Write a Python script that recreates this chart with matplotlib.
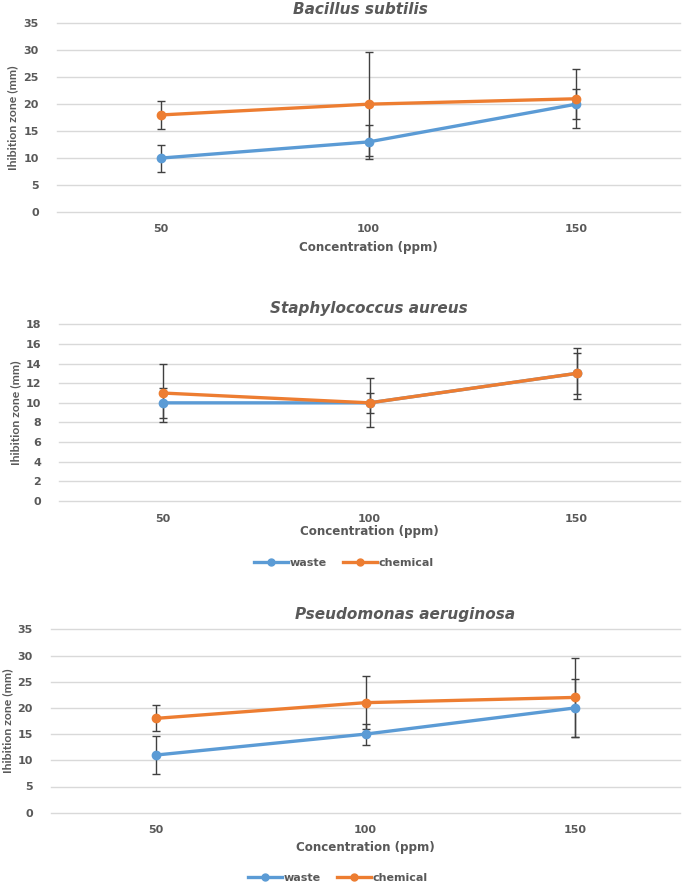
import matplotlib
matplotlib.use("Agg")
import matplotlib.pyplot as plt
from matplotlib.lines import Line2D
import numpy as np

plt.rcParams['font.family'] = ['DejaVu Sans']

# data
conc_labels = ['50', '100', '150']

bs_waste = [10, 13, 20]
bs_waste_err = [2.5, 3.1, 2.75]
bs_chem = [18, 20, 21]
bs_chem_err = [2.6, 9.6, 5.5]

sa_waste = [10, 10, 13]
sa_waste_err = [1.5, 1.0, 2.1]
sa_chem = [11, 10, 13]
sa_chem_err = [3.0, 2.5, 2.6]

pa_waste = [11, 15, 20]
pa_waste_err = [3.6, 2.0, 5.6]
pa_chem = [18, 21, 22]
pa_chem_err = [2.5, 5.0, 7.5]

BLUE = '#5B9BD5'
ORANGE = '#ED7D31'
TXT = '#595959'
GRID = '#D9D9D9'
ERR = '#404040'

W, H = 685, 884
fig = plt.figure(figsize=(W / 100, H / 100), dpi=100)


def px_axes(left, right, top, bottom):
    return fig.add_axes([left / W, 1 - bottom / H, (right - left) / W, (bottom - top) / H])


def fig_text(x, y, s, **kw):
    fig.text(x / W, 1 - y / H, s, color=TXT, ha='center', va='center', **kw)


def panel(box, waste, waste_err, chem, chem_err, ymax, ystep, title, title_x, title_y,
          xlab_y, ylab_x, legend_xy=None):
    ax = px_axes(*box)
    x = np.arange(len(conc_labels))
    for vals, errs, col in [(waste, waste_err, BLUE), (chem, chem_err, ORANGE)]:
        ax.errorbar(x, vals, yerr=errs, fmt='none', ecolor=ERR, elinewidth=1.0,
                    capsize=3, capthick=1.0, zorder=2)
        ax.plot(x, vals, color=col, lw=2.4, marker='o', ms=6, zorder=3,
                solid_capstyle='round')
    ax.set_xlim(-0.5, 2.5)
    ax.set_ylim(0, ymax)
    ax.set_yticks(np.arange(0, ymax + 0.1, ystep))
    ax.set_xticks(x)
    ax.set_xticklabels(conc_labels)
    ax.grid(axis='y', color=GRID, lw=1.0)
    for gl in ax.get_ygridlines():
        gl.set_clip_on(False)
    ax.set_axisbelow(True)
    for s in ax.spines.values():
        s.set_visible(False)
    ax.tick_params(length=0, labelcolor=TXT, labelsize=8)
    ax.tick_params(axis='y', pad=13)
    ax.tick_params(axis='x', pad=9)
    for lab in ax.get_xticklabels() + ax.get_yticklabels():
        lab.set_fontweight('bold')
    fig_text(title_x, title_y, title, fontsize=11, fontweight='bold', style='italic')
    fig_text((box[0] + box[1]) / 2, xlab_y, 'Concentration (ppm)', fontsize=8.6,
             fontweight='bold')
    fig_text(ylab_x, (box[2] + box[3]) / 2, 'Ihibition zone (mm)', fontsize=8.8,
             fontweight='bold', rotation=90, family='Lato')
    if legend_xy is not None:
        handles = [Line2D([], [], color=BLUE, lw=2.4, marker='o', ms=5),
                   Line2D([], [], color=ORANGE, lw=2.4, marker='o', ms=5)]
        fig.legend(handles, ['waste', 'chemical'], loc='center',
                   bbox_to_anchor=(legend_xy[0] / W, 1 - legend_xy[1] / H), ncol=2,
                   frameon=False, handlelength=3.1, handletextpad=0.15,
                   columnspacing=1.4, prop={'weight': 'bold', 'size': 8},
                   labelcolor=TXT)
    return ax


panel((57, 680, 23.3, 212), bs_waste, bs_waste_err, bs_chem, bs_chem_err, 35, 5,
      'Bacillus subtilis', 360, 9, 247, 13)
panel((59, 680, 324.3, 501), sa_waste, sa_waste_err, sa_chem, sa_chem_err, 18, 2,
      'Staphylococcus aureus', 369, 308, 532, 16, legend_xy=(344, 563))
panel((51, 680, 629.3, 812.7), pa_waste, pa_waste_err, pa_chem, pa_chem_err, 35, 5,
      'Pseudomonas aeruginosa', 405, 615, 847, 8, legend_xy=(338, 878))

fig.savefig('out.png', dpi=100)
